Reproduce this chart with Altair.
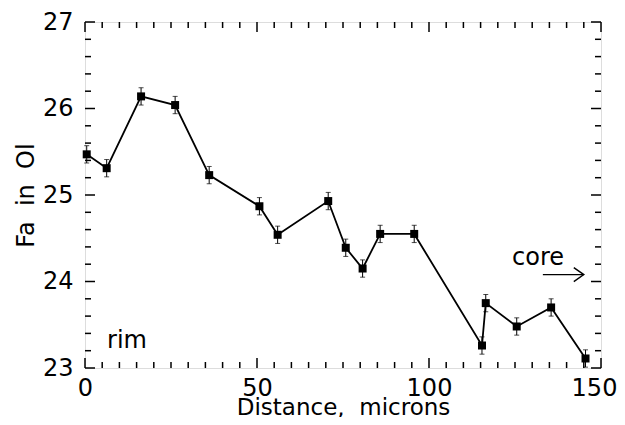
import altair as alt
import pandas as pd

# data
distance = [0.5, 6.3, 16.3, 26.2, 36.1, 50.7, 56.0, 70.7, 75.8, 80.7, 85.8, 95.7, 115.4, 116.5, 125.5, 135.5, 145.5]
fa = [25.47, 25.31, 26.14, 26.04, 25.23, 24.87, 24.54, 24.93, 24.39, 24.15, 24.55, 24.55, 23.26, 23.75, 23.48, 23.70, 23.11]
err = [0.1] * len(distance)

x_major = [0, 50, 100, 150]
x_minor = [v for v in range(5, 150, 5) if v % 50 != 0]
y_major = [23, 24, 25, 26, 27]
y_minor = [23.2, 23.4, 23.6, 23.8, 24.2, 24.4, 24.6, 24.8, 25.2, 25.4, 25.6, 25.8, 26.2, 26.4, 26.6, 26.8]

rim_label = {"x": 12.2, "y": 23.31, "text": "rim"}
core_label = {"x": 131.7, "y": 24.27, "text": "core"}
arrow = {"x": 133.1, "x2": 145.0, "y": 24.08}

NB = "\u00a0"
x_title = "Distance," + NB + NB + "microns"
y_title = "Fa" + NB + NB + "in" + NB + NB + "Ol"

W, H = 516, 346
FONT = "DejaVu Sans"

df = pd.DataFrame({"d": distance, "fa": fa})
df["lo"] = df["fa"] - pd.Series(err)
df["hi"] = df["fa"] + pd.Series(err)

xs = alt.Scale(domain=[0, 150], nice=False, zero=False)
ys = alt.Scale(domain=[23, 27], nice=False, zero=False)

xax = alt.Axis(values=x_major, format="d", ticks=False, domain=False, grid=False,
               labelFontSize=24, labelFont=FONT, labelColor="black", labelPadding=8,
               labelOffset={"condition": {"test": "datum.value == 150", "value": -7}, "value": 0},
               title=x_title, titleFontSize=23, titleFont=FONT,
               titleFontWeight="normal", titleColor="black", titlePadding=-4,
               labelFlush=False)
yax = alt.Axis(values=y_major, format="d", ticks=False, domain=False, grid=False,
               labelFontSize=24, labelFont=FONT, labelColor="black", labelPadding=12,
               title=y_title, titleFontSize=24, titleFont=FONT,
               titleFontWeight="normal", titleColor="black", titlePadding=4,
               labelFlush=False)

base = alt.Chart(df)
line = base.mark_line(color="black", strokeWidth=1.8).encode(
    x=alt.X("d:Q", scale=xs, axis=xax), y=alt.Y("fa:Q", scale=ys, axis=yax))
bars = base.mark_errorbar(ticks=alt.MarkConfig(size=5, color="black", strokeWidth=1),
                          color="black", thickness=1).encode(
    x="d:Q", y=alt.Y("lo:Q", title=""), y2="hi:Q")
pts = base.mark_square(size=64, color="black", opacity=1).encode(x="d:Q", y="fa:Q")

def tick_layer(vals, orient, length):
    t = alt.Chart(pd.DataFrame({"v": vals})).mark_rule(color="black", strokeWidth=1.5)
    if orient == "bottom":
        return t.encode(x=alt.X("v:Q", scale=xs), y=alt.value(H), y2=alt.value(H - length))
    if orient == "top":
        return t.encode(x=alt.X("v:Q", scale=xs), y=alt.value(0), y2=alt.value(length))
    if orient == "left":
        return t.encode(y=alt.Y("v:Q", scale=ys), x=alt.value(0), x2=alt.value(length))
    return t.encode(y=alt.Y("v:Q", scale=ys), x=alt.value(W), x2=alt.value(W - length))

ticks = [tick_layer(x_major, o, 10) for o in ("bottom", "top")] + \
        [tick_layer(x_minor, o, 6) for o in ("bottom", "top")] + \
        [tick_layer(y_major, o, 10) for o in ("left", "right")] + \
        [tick_layer(y_minor, o, 6) for o in ("left", "right")]

texts = alt.Chart(pd.DataFrame([rim_label, core_label])).mark_text(
    fontSize=24, font=FONT, color="black").encode(x="x:Q", y="y:Q", text="text:N")
arrow_df = pd.DataFrame([arrow])
arrow_line = alt.Chart(arrow_df).mark_rule(color="black", strokeWidth=1.4).encode(
    x="x:Q", x2="x2:Q", y="y:Q")
arrow_head = alt.Chart(arrow_df).mark_point(
    shape="M-1,-0.7L0,0L-1,0.7", filled=False, color="black", strokeWidth=1.4,
    size=400, opacity=1).encode(x="x2:Q", y="y:Q")

chart = alt.layer(*ticks, line, bars, pts, texts, arrow_line, arrow_head).properties(
    width=W, height=H, autosize="none",
    padding={"left": 77, "top": 14, "right": 16, "bottom": 49},
).configure_view(stroke="black", strokeWidth=2).configure(background="white")

chart.save("out.html", embed_options={"renderer": "svg", "actions": False})
